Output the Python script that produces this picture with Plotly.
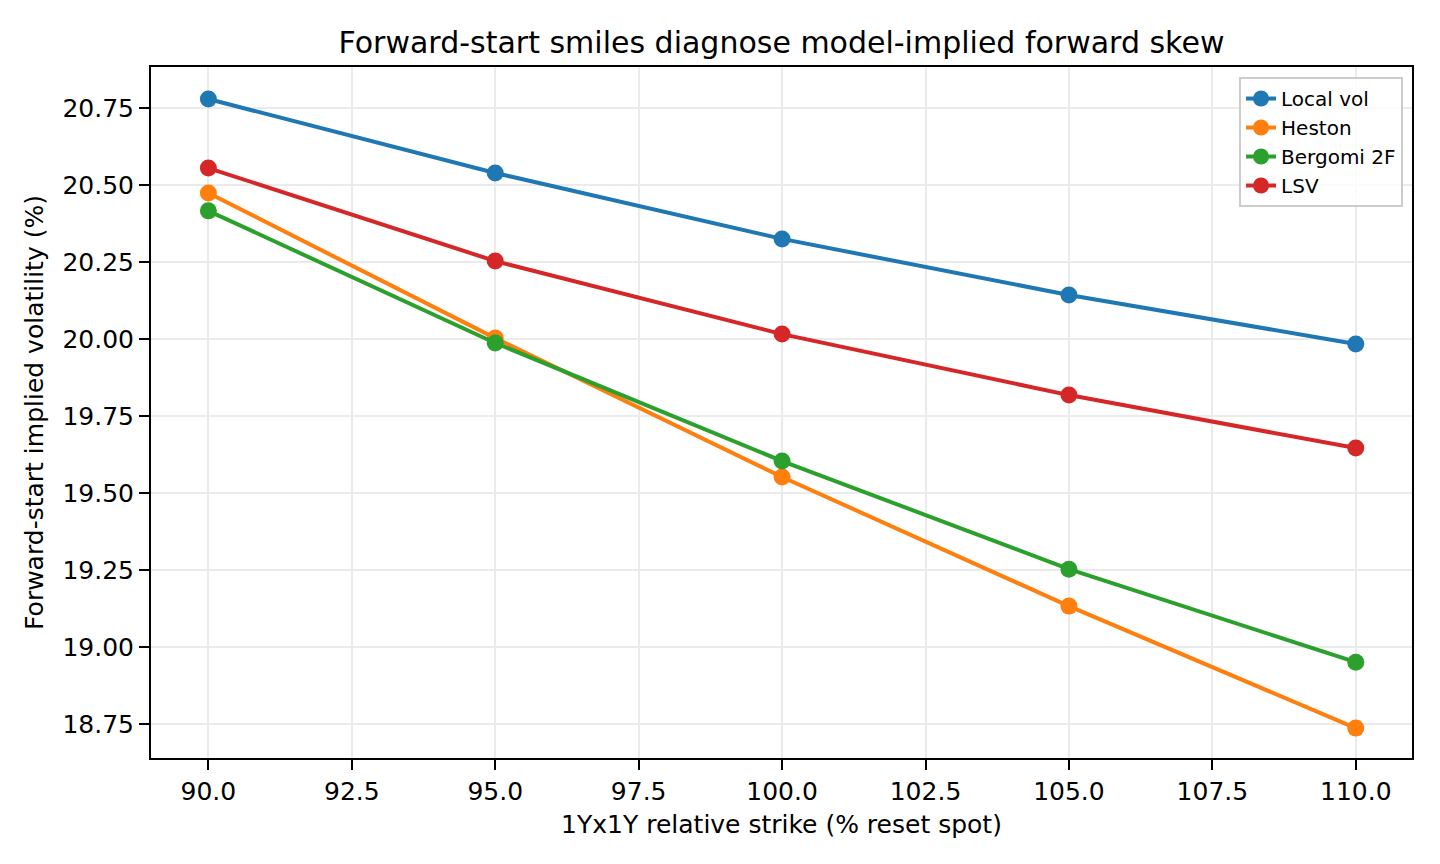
import plotly.graph_objects as go

strikes = [90, 95, 100, 105, 110]
local_vol = [20.779, 20.539, 20.325, 20.143, 19.984]
heston = [20.474, 20.003, 19.552, 19.133, 18.737]
bergomi_2f = [20.416, 19.987, 19.604, 19.253, 18.951]
lsv = [20.555, 20.253, 20.016, 19.818, 19.646]

series = [
    ("Local vol", local_vol, "#1f77b4"),
    ("Heston", heston, "#ff7f0e"),
    ("Bergomi 2F", bergomi_2f, "#2ca02c"),
    ("LSV", lsv, "#d62728"),
]

FONT = "DejaVu Sans"

fig = go.Figure()
for name, vals, color in series:
    fig.add_trace(go.Scatter(
        x=strikes, y=vals, name=name, mode="lines+markers",
        line=dict(color=color, width=4),
        marker=dict(color=color, size=17),
    ))

fig.update_layout(
    width=1440, height=864,
    margin=dict(l=151, r=28, t=67, b=106),
    paper_bgcolor="white", plot_bgcolor="white",
    font=dict(family=FONT, color="black", size=25),
    title=dict(text="Forward-start smiles diagnose model-implied forward skew",
               x=0.5, xref="paper", xanchor="center",
               y=1 - 42 / 864, yref="container", yanchor="middle",
               font=dict(size=30, family=FONT, color="black")),
    legend=dict(x=0.9929, y=0.9855, xanchor="right", yanchor="top",
                bgcolor="rgba(255,255,255,0.8)", bordercolor="#cccccc",
                borderwidth=2, font=dict(size=20, family=FONT)),
    showlegend=True,
)

fig.update_xaxes(
    range=[89.0, 110.98], tickmode="linear", tick0=90, dtick=2.5,
    tickformat=".1f", ticks="outside", ticklen=10, tickwidth=2, tickcolor="black",
    showline=True, linecolor="black", linewidth=2, mirror=True,
    showgrid=True, gridcolor="#ebebeb", gridwidth=2, zeroline=False,
    title=dict(text="1Yx1Y relative strike (% reset spot)", standoff=10,
               font=dict(size=25, family=FONT)),
    tickfont=dict(size=25, family=FONT),
)
fig.update_yaxes(
    range=[18.640, 20.883], tickmode="linear", tick0=18.75, dtick=0.25,
    tickformat=".2f", ticks="outside", ticklen=10, tickwidth=2, tickcolor="black",
    showline=True, linecolor="black", linewidth=2, mirror=True,
    showgrid=True, gridcolor="#ebebeb", gridwidth=2, zeroline=False,
    title=dict(text="Forward-start implied volatility (%)", standoff=12,
               font=dict(size=25, family=FONT)),
    tickfont=dict(size=25, family=FONT),
)

fig.write_html("out.html")
